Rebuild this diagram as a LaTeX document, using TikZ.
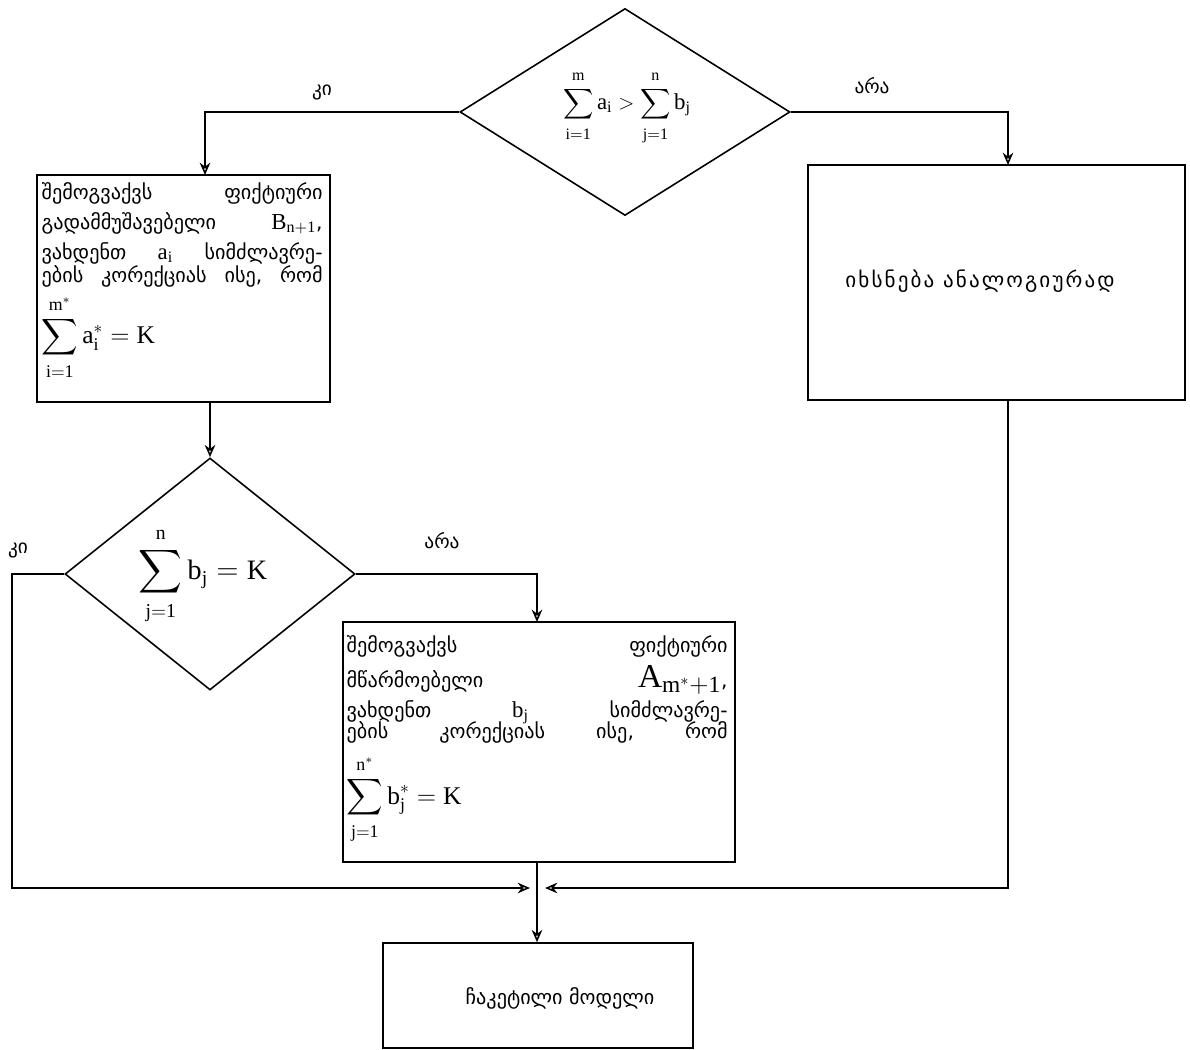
\documentclass[tikz,border=0pt]{standalone}
\usepackage{amsmath}
\usepackage{fontspec}
\setmainfont{Liberation Serif}
\newfontfamily\geo{DejaVu Sans}
\newfontfamily\geow[LetterSpace=10]{DejaVu Sans}
\usetikzlibrary{shapes.geometric,arrows.meta,calc}
\newcommand{\uplim}[1]{\mathrm{#1}\rule[-2.5pt]{0pt}{2.5pt}}
\newcommand{\lolim}[1]{\rule{0pt}{9pt}\mathrm{#1}}
\begin{document}
\begin{tikzpicture}[x=0.02cm,y=-0.02cm,
  box/.style={draw, line width=0.9pt, inner sep=0pt},
  dia/.style={draw, diamond, line width=0.9pt, inner sep=0pt},
  arr/.style={line width=0.9pt, -{Stealth[length=7pt,width=6pt,open]}},
  lbl/.style={font=\geo\fontsize{11}{13}\selectfont, inner sep=0pt},
  para/.style={inner sep=0pt, align=left, font=\geo\fontsize{11.5}{17}\selectfont},
  mth/.style={inner sep=0pt}
]
\useasboundingbox (0,0) rectangle (1190,1050);

% decisions
\node[dia, minimum width=330*0.02cm, minimum height=207*0.02cm] (d1) at (625,112) {};
\node[mth, font=\fontsize{13}{15}\selectfont] (m1) at (627,108)
  {$\displaystyle\sum_{\lolim{i=1}}^{\uplim{m}}\mathrm{a_i} > \sum_{\lolim{j=1}}^{\uplim{n}}\mathrm{b_j}$};

\node[dia, minimum width=290*0.02cm, minimum height=232*0.02cm] (d2) at (210,574) {};
\node[mth, font=\fontsize{16}{18}\selectfont] (m2) at (203,576)
  {$\displaystyle\sum_{\lolim{j=1}}^{\uplim{n}}\mathrm{b_j} = \mathrm{K}$};

% boxes
\node[box, minimum width=293*0.02cm, minimum height=227*0.02cm] (b1) at (183.5,288.5) {};
\node[para, text width=281*0.02cm, anchor=north west] (t1) at ([shift={(5,8)}]b1.north west)
  {შემოგვაქვს\hfill ფიქტიური\\
   გადამმუშავებელი\hfill {\fontsize{13}{13}\selectfont$\mathrm{B_{n+1}}$},\\
   ვახდენთ\hfill {\fontsize{13}{13}\selectfont$\mathrm{a_i}$}\hfill სიმძლავრე-\\[-4pt]
   ების\hfill კორექციას\hfill ისე,\hfill რომ\\[4pt]
   {\fontsize{14.5}{17}\selectfont$\displaystyle\sum_{\lolim{i=1}}^{\uplim{m^*}}\mathrm{a_i^*} = \mathrm{K}$}};

\node[box, minimum width=377*0.02cm, minimum height=235*0.02cm] (b2) at (996.5,282.5) {};
\node[inner sep=0pt, font=\geow\fontsize{12}{14}\selectfont] (t2) at (980,281) {იხსნება ანალოგიურად};

\node[box, minimum width=392*0.02cm, minimum height=240*0.02cm] (b3) at (539,742) {};
\node[para, text width=381*0.02cm, anchor=north west] (t3) at ([shift={(4,14)}]b3.north west)
  {შემოგვაქვს\hfill ფიქტიური\\[3pt]
   მწარმოებელი\hfill {\fontsize{19}{19}\selectfont$\mathrm{A_{m^*+1}}$},\\
   ვახდენთ\hfill {\fontsize{13}{13}\selectfont$\mathrm{b_j}$}\hfill სიმძლავრე-\\[-5pt]
   ების\hfill კორექციას\hfill ისე,\hfill რომ\\[6pt]
   {\fontsize{14.5}{17}\selectfont$\displaystyle\sum_{\lolim{j=1}}^{\uplim{n^*}}\mathrm{b_j^*} = \mathrm{K}$}};

\node[box, minimum width=310*0.02cm, minimum height=105*0.02cm] (b4) at (538,995.5) {};
\node[inner sep=0pt, font=\geo\fontsize{11.5}{14}\selectfont] (t4) at (560,998) {ჩაკეტილი მოდელი};

% labels
\node[lbl] (l1) at (322,92) {კი};
\node[lbl] (l2) at (872,86) {არა};
\node[lbl] (l3) at (18,550) {კი};
\node[lbl] (l4) at (442,541) {არა};

% connectors
\coordinate (p1) at (205,175);
\coordinate (p2) at (1008,165);
\coordinate (p3) at (210,402);
\coordinate (p4) at (537,622);
\coordinate (p5) at (537,862);
\coordinate (p6) at (1008,400);
\coordinate (c1) at (12,888);
\coordinate (c2) at (1008,888);
\coordinate (j1) at (530,888);
\coordinate (j2) at (545,888);

\draw[arr] (d1.west) -| (p1);
\draw[arr] (d1.east) -| (p2);
\draw[arr] (p3) -- (d2.north);
\draw[arr] (d2.east) -| (p4);
\draw[arr] (p5) -- (p5 |- b4.north);
\draw[arr] (d2.west) -| (c1) -- (j1);
\draw[arr] (p6) -- (c2) -- (j2);
\end{tikzpicture}
\end{document}
